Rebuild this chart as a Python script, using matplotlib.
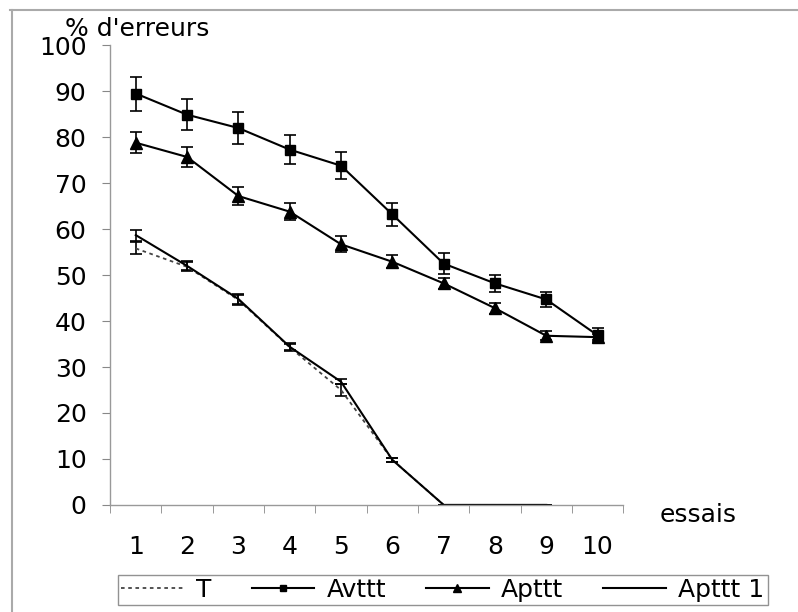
import numpy as np
import matplotlib
matplotlib.use('Agg')
import matplotlib.pyplot as plt
from matplotlib.lines import Line2D

plt.rcParams['font.family'] = ['DejaVu Sans']

essais = np.arange(1, 11)

# T (dotted)
t_vals = [55.8, 51.8, 44.6, 34.3, 25.0, 9.8, 0, 0, 0, np.nan]
t_err = [1.3, 1.0, 1.0, 0.8, 1.2, 0.4, 0, 0, 0, 0]

# Avttt (squares)
av_vals = [89.5, 84.9, 82.0, 77.3, 73.8, 63.2, 52.5, 48.2, 44.7, 36.9]
av_err = [3.7, 3.4, 3.4, 3.1, 3.0, 2.5, 2.3, 1.9, 1.7, 1.5]

# Apttt (triangles)
ap_vals = [78.8, 75.7, 67.2, 63.8, 56.7, 52.9, 48.2, 42.8, 36.8, 36.5]
ap_err = [2.3, 2.2, 1.9, 1.8, 1.7, 1.4, 1.2, 1.2, 1.0, 0.6]

# Apttt 1 (solid, no marker)
ap1_vals = [58.7, 52.0, 44.8, 34.4, 26.8, 9.8, 0, 0, 0, np.nan]
ap1_err = [1.2, 1.0, 1.0, 0.8, 0.6, 0.4, 0, 0, 0, 0]

fig = plt.figure(figsize=(7.98, 6.12), dpi=100)
ax = fig.add_axes([0.138, 0.175, 0.643, 0.751])

ebkw = dict(ecolor='black', elinewidth=1.2, capsize=4.5, capthick=1.2)

ax.errorbar(essais, t_vals, yerr=t_err, color='#444444', lw=1.3,
            linestyle=(0, (2, 2)), **ebkw)
ax.errorbar(essais, ap1_vals, yerr=ap1_err, color='black', lw=1.5, **ebkw)
ax.errorbar(essais, av_vals, yerr=av_err, color='black', lw=1.5,
            marker='s', markersize=7, **ebkw)
ax.errorbar(essais, ap_vals, yerr=ap_err, color='black', lw=1.5,
            marker='^', markersize=8, **ebkw)

ax.set_xlim(0.5, 10.5)
ax.set_ylim(0, 100)
ax.set_yticks(np.arange(0, 101, 10))
ax.set_xticks(essais)
ax.set_xticks(np.arange(0.5, 11, 1), minor=True)
ax.tick_params(axis='x', which='major', length=0, pad=22, labelsize=18)
ax.tick_params(axis='x', which='minor', length=6, color='#888888', direction='out')
ax.tick_params(axis='y', length=6, color='#888888', pad=11, labelsize=18)

for s in ['top', 'right']:
    ax.spines[s].set_visible(False)
for s in ['left', 'bottom']:
    ax.spines[s].set_color('#999999')
    ax.spines[s].set_linewidth(1.0)

fig.text(0.082, 0.953, "% d'erreurs", fontsize=18, ha='left', va='center')
fig.text(0.827, 0.158, "essais", fontsize=18, ha='left', va='center')

handles = [
    Line2D([], [], color='#444444', lw=1.3, linestyle=(0, (2, 2))),
    Line2D([], [], color='black', lw=1.5, marker='s', markersize=5),
    Line2D([], [], color='black', lw=1.5, marker='^', markersize=6),
    Line2D([], [], color='black', lw=1.5),
]
leg = fig.legend(handles, ['T', 'Avttt', 'Apttt', 'Apttt 1'],
                 loc='center', bbox_to_anchor=(0.555, 0.036), ncol=4,
                 fontsize=18, frameon=True, fancybox=False,
                 handlelength=2.5, columnspacing=1.6, handletextpad=0.5,
                 borderpad=0.12, borderaxespad=0)
leg.get_frame().set_edgecolor('#777777')
leg.get_frame().set_linewidth(1.0)

# outer frame lines (top and left)
fig.add_artist(Line2D([0.012, 1.0], [0.984, 0.984], color='#aaaaaa', lw=1.5))
fig.add_artist(Line2D([0.015, 0.015], [0.0, 0.984], color='#aaaaaa', lw=1.5))

fig.savefig('out.png', dpi=100)
